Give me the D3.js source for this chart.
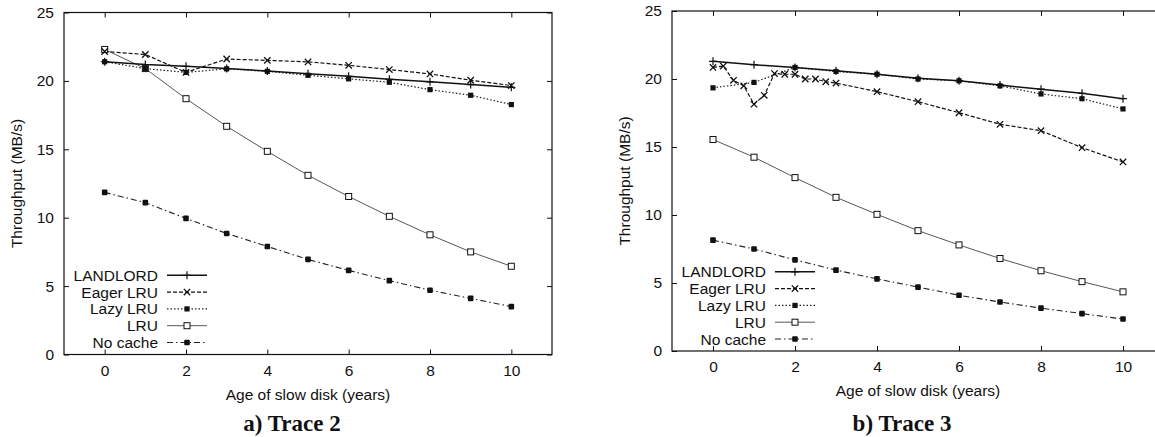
<!DOCTYPE html>
<html>
<head>
<meta charset="utf-8">
<script src="https://cdn.jsdelivr.net/npm/d3@7"></script>
<style>
  body { margin: 0; background: #fff; }
  svg text { font-family: "Liberation Sans", Arial, sans-serif; fill: #111; }
  .caption { font-family: "Liberation Serif", "Times New Roman", serif; font-weight: bold; }
</style>
</head>
<body>
<div id="charts"></div>
<script>
const YEARS = [0, 1, 2, 3, 4, 5, 6, 7, 8, 9, 10];
const X_TICKS = [0, 2, 4, 6, 8, 10];
const Y_TICKS = [0, 5, 10, 15, 20, 25];
const SERIES_NAMES = ["LANDLORD", "Eager LRU", "Lazy LRU", "LRU", "No cache"];

// a) Trace 2
const t2Landlord = [21.4, 21.2, 21.07, 20.9, 20.72, 20.52, 20.34, 20.12, 19.93, 19.73, 19.53];
const t2Eager    = [22.15, 21.93, 20.62, 21.6, 21.5, 21.39, 21.14, 20.83, 20.51, 20.05, 19.66];
const t2Lazy     = [21.4, 20.9, 20.62, 20.88, 20.7, 20.41, 20.15, 19.9, 19.36, 18.95, 18.27];
const t2Lru      = [22.3, 20.9, 18.7, 16.68, 14.85, 13.1, 11.55, 10.1, 8.75, 7.5, 6.45];
const t2NoCache  = [11.85, 11.1, 9.95, 8.85, 7.9, 6.95, 6.15, 5.4, 4.7, 4.1, 3.5];

// b) Trace 3 (eager LRU was sampled more finely over the first 3 years)
const t3Landlord   = [21.3, 21.05, 20.85, 20.6, 20.35, 20.05, 19.87, 19.55, 19.25, 18.95, 18.55];
const t3EagerYears = [0, 0.25, 0.5, 0.75, 1, 1.25, 1.5, 1.75, 2, 2.25, 2.5, 2.75, 3, 4, 5, 6, 7, 8, 9, 10];
const t3Eager      = [20.85, 20.95, 19.9, 19.5, 18.15, 18.8, 20.4, 20.35, 20.35, 20.0, 20.0, 19.8, 19.7,
                      19.07, 18.33, 17.52, 16.67, 16.2, 14.95, 13.9];
const t3Lazy       = [19.35, 19.75, 20.85, 20.55, 20.35, 20.0, 19.87, 19.5, 18.9, 18.55, 17.8];
const t3Lru        = [15.55, 14.25, 12.75, 11.3, 10.05, 8.85, 7.8, 6.8, 5.9, 5.1, 4.35];
const t3NoCache    = [8.15, 7.5, 6.7, 5.95, 5.3, 4.7, 4.1, 3.6, 3.15, 2.75, 2.35];

const STYLE = {
  "LANDLORD":  {width: 1.5, dash: null,        marker: "plus",  stroke: "#111"},
  "Eager LRU": {width: 1.2, dash: "4,2",       marker: "cross", stroke: "#111"},
  "Lazy LRU":  {width: 1.2, dash: "1.5,2",     marker: "fill",  stroke: "#222"},
  "LRU":       {width: 0.9, dash: null,        marker: "open",  stroke: "#444"},
  "No cache":  {width: 1.1, dash: "6,3,1.5,3", marker: "fill2", stroke: "#222"}
};

const svg = d3.select("#charts")
  .append("svg")
    .attr("width", 1155)
    .attr("height", 437);

drawPanel({left: 64, top: 12.5, right: 552, bottom: 354.5}, [
  {name: "LANDLORD",  xs: YEARS, ys: t2Landlord},
  {name: "Eager LRU", xs: YEARS, ys: t2Eager},
  {name: "Lazy LRU",  xs: YEARS, ys: t2Lazy},
  {name: "LRU",       xs: YEARS, ys: t2Lru},
  {name: "No cache",  xs: YEARS, ys: t2NoCache}
], "a) Trace 2");

drawPanel({left: 672, top: 11, right: 1164, bottom: 351}, [
  {name: "LANDLORD",  xs: YEARS,        ys: t3Landlord},
  {name: "Eager LRU", xs: t3EagerYears, ys: t3Eager},
  {name: "Lazy LRU",  xs: YEARS,        ys: t3Lazy},
  {name: "LRU",       xs: YEARS,        ys: t3Lru},
  {name: "No cache",  xs: YEARS,        ys: t3NoCache}
], "b) Trace 3");

function drawMarker(sel, kind) {
  if (kind === "plus") {
    sel.append("path").attr("d", "M-4,0H4M0,-4V4").attr("stroke", "#111").attr("stroke-width", 1.2);
  } else if (kind === "cross") {
    sel.append("path").attr("d", "M-3.2,-3.2L3.2,3.2M-3.2,3.2L3.2,-3.2").attr("stroke", "#111").attr("stroke-width", 1.3);
  } else if (kind === "fill") {
    sel.append("rect").attr("x", -2.6).attr("y", -2.6).attr("width", 5.2).attr("height", 5.2).attr("fill", "#111");
  } else if (kind === "fill2") {
    sel.append("rect").attr("x", -2.8).attr("y", -2.8).attr("width", 5.6).attr("height", 5.6)
      .attr("rx", 1).attr("fill", "#111");
  } else {
    sel.append("rect").attr("x", -3).attr("y", -3).attr("width", 6).attr("height", 6)
      .attr("fill", "#fff").attr("stroke", "#111").attr("stroke-width", 1);
  }
}

function drawPanel(frame, series, caption) {
  const xScale = d3.scaleLinear().domain([-1, 11]).range([frame.left, frame.right]);
  const yScale = d3.scaleLinear().domain([0, 25]).range([frame.bottom, frame.top]);
  const g = svg.append("g");
  const fontSize = 15.5;

  // axes with inward ticks, mirrored on top and right
  const axes = [
    [d3.axisBottom(xScale).tickValues(X_TICKS), `translate(0,${frame.bottom})`],
    [d3.axisTop(xScale).tickValues(X_TICKS).tickFormat(""), `translate(0,${frame.top})`],
    [d3.axisLeft(yScale).tickValues(Y_TICKS), `translate(${frame.left},0)`],
    [d3.axisRight(yScale).tickValues(Y_TICKS).tickFormat(""), `translate(${frame.right},0)`]
  ];
  axes.forEach(([ax, tr]) => {
    const a = g.append("g")
      .attr("transform", tr)
      .call(ax.tickSize(-5).tickPadding(10));
    a.attr("font-size", fontSize).attr("font-family", null);
    a.select(".domain").remove();
    a.selectAll("line").attr("stroke", "#111").attr("stroke-width", 1);
  });

  g.append("rect")
    .attr("x", frame.left).attr("y", frame.top)
    .attr("width", frame.right - frame.left).attr("height", frame.bottom - frame.top)
    .attr("fill", "none").attr("stroke", "#111").attr("stroke-width", 1.2);

  const line = d3.line().x(d => xScale(d[0])).y(d => yScale(d[1]));
  const lines = g.append("g");
  const marks = g.append("g");
  // draw bottom series first so LANDLORD ends on top
  series.slice().reverse().forEach(s => {
    const st = STYLE[s.name];
    const pts = s.xs.map((x, i) => [x, s.ys[i]]);
    lines.append("path")
      .attr("d", line(pts))
      .attr("fill", "none")
      .attr("stroke", st.stroke)
      .attr("stroke-width", st.width)
      .attr("stroke-dasharray", st.dash);
    marks.selectAll(null)
      .data(pts)
      .join("g")
        .attr("transform", d => `translate(${xScale(d[0])},${yScale(d[1])})`)
        .each(function() { drawMarker(d3.select(this), st.marker); });
  });

  // legend, bottom-left inside the frame
  const legX = frame.left + 94;
  const legend = g.append("g");
  SERIES_NAMES.forEach((name, i) => {
    const st = STYLE[name];
    const base = frame.bottom - 6.5 - (SERIES_NAMES.length - 1 - i) * 16.8;
    legend.append("text")
      .attr("x", legX).attr("y", base)
      .attr("text-anchor", "end")
      .attr("font-size", fontSize)
      .text(name);
    legend.append("line")
      .attr("x1", legX + 9).attr("x2", legX + 49)
      .attr("y1", base - 5.5).attr("y2", base - 5.5)
      .attr("stroke", st.stroke).attr("stroke-width", st.width)
      .attr("stroke-dasharray", st.dash);
    drawMarker(legend.append("g").attr("transform", `translate(${legX + 29},${base - 5.5})`), st.marker);
  });

  const midX = (frame.left + frame.right) / 2;
  g.append("text")
    .attr("x", midX).attr("y", frame.bottom + 45)
    .attr("text-anchor", "middle")
    .attr("font-size", fontSize)
    .text("Age of slow disk (years)");
  g.append("text")
    .attr("transform", `translate(${frame.left - 42},${(frame.top + frame.bottom) / 2}) rotate(-90)`)
    .attr("text-anchor", "middle")
    .attr("font-size", fontSize)
    .text("Throughput (MB/s)");
  g.append("text")
    .attr("class", "caption")
    .attr("x", midX - 16).attr("y", 431)
    .attr("text-anchor", "middle")
    .attr("font-size", 23)
    .text(caption);
}
</script>
</body>
</html>
